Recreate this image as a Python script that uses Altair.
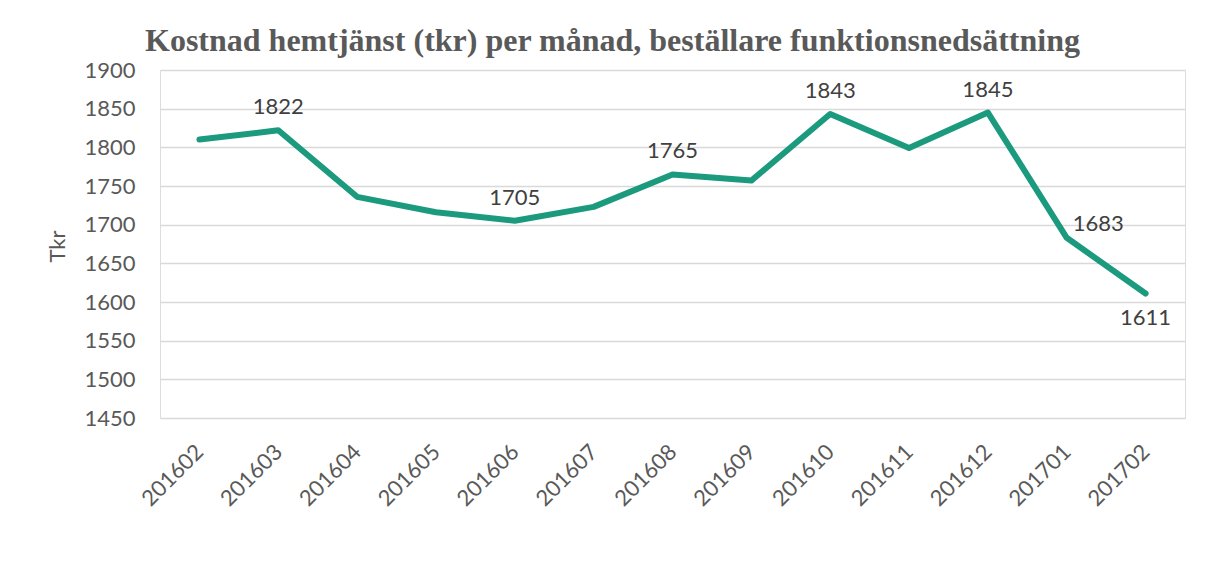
import altair as alt
import pandas as pd

months = ["201602", "201603", "201604", "201605", "201606", "201607", "201608",
          "201609", "201610", "201611", "201612", "201701", "201702"]
values = [1810, 1822, 1736, 1716, 1705, 1723, 1765, 1757, 1843, 1799, 1845, 1683, 1611]
labels_above = ["201603", "201606", "201608", "201610", "201612"]
labels_right = ["201701"]
labels_below = ["201702"]
y_ticks = [1450, 1500, 1550, 1600, 1650, 1700, 1750, 1800, 1850, 1900]

df = pd.DataFrame({"month": months, "value": values})

TEXT = "#595959"
LINE = "#1b9a7e"

x_enc = alt.X("month:O", sort=months, scale=alt.Scale(padding=0.5),
              axis=alt.Axis(title=None, labelAngle=-45, labelAlign="right",
                            labelBaseline="middle", labelPadding=30,
                            labelFont="Lato", labelFontSize=22, labelColor=TEXT,
                            ticks=False, domain=False, grid=False))
y_enc = alt.Y("value:Q", scale=alt.Scale(domain=[1450, 1900], nice=False, zero=False),
              axis=alt.Axis(title="Tkr", values=y_ticks, format="d",
                            labelFont="Lato", labelFontSize=22,
                            labelColor=TEXT, labelPadding=25, ticks=False, domain=False,
                            gridColor="#d9d9d9", gridWidth=1.5,
                            titleFont="Lato", titleFontSize=22, titleFontWeight="normal",
                            titleColor=TEXT, titleX=-91, titleY=176))

base = alt.Chart(df).encode(x=x_enc, y=y_enc)

line = base.mark_line(color=LINE, strokeWidth=6, strokeCap="round", strokeJoin="round")

txt_style = dict(font="Lato", fontSize=22, color="#404040")
above = base.mark_text(dy=-23, **txt_style).encode(text="value:Q").transform_filter(
    alt.FieldOneOfPredicate(field="month", oneOf=labels_above))
right = base.mark_text(dx=6, dy=-14, align="left", **txt_style).encode(text="value:Q").transform_filter(
    alt.FieldOneOfPredicate(field="month", oneOf=labels_right))
below = base.mark_text(dy=25, **txt_style).encode(text="value:Q").transform_filter(
    alt.FieldOneOfPredicate(field="month", oneOf=labels_below))

chart = alt.layer(line, above, right, below).properties(
    width=1025, height=348,
    title=alt.TitleParams(
        "Kostnad hemtjänst (tkr) per månad, beställare funktionsnedsättning",
        anchor="start", frame="group", dx=-15, offset=1,
        font="Liberation Serif", fontSize=32, fontWeight="bold", color=TEXT),
    autosize=alt.AutoSizeParams(type="none"),
    padding={"left": 152, "top": 62, "right": 16, "bottom": 120},
).configure_view(fill="#f2f2f2", strokeWidth=0).configure(background="white")

chart.save("out.html", embed_options={"renderer": "svg", "actions": False})
